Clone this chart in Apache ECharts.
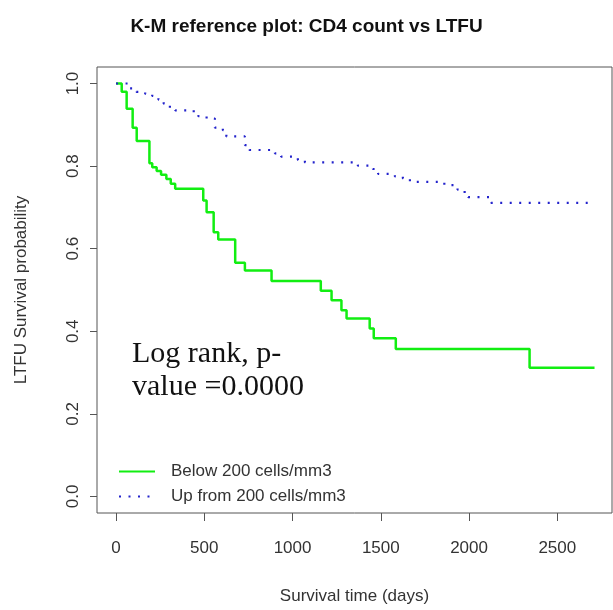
<!DOCTYPE html>
<html>
<head>
<meta charset="utf-8">
<script src="https://cdn.jsdelivr.net/npm/echarts@6/dist/echarts.min.js"></script>
<style>
  html, body { margin: 0; padding: 0; background: #fff; }
  #chart { width: 613px; height: 610px; }
</style>
</head>
<body>
<div id="chart"></div>
<script>
// Kaplan-Meier steps: survival value holds from each time until the next one
var belowTime = [0, 32, 60, 94, 117, 189, 205, 230, 255, 285, 310, 335, 494, 513, 553, 579, 675, 730, 881, 1160, 1221, 1277, 1306, 1437, 1460, 1585, 2343, 2711];
var belowSurv = [1.0, 0.980, 0.939, 0.893, 0.861, 0.807, 0.797, 0.788, 0.779, 0.769, 0.757, 0.745, 0.717, 0.688, 0.640, 0.622, 0.566, 0.547, 0.522, 0.498, 0.475, 0.451, 0.431, 0.407, 0.383, 0.357, 0.312, 0.312];

var upTime = [0, 70, 115, 165, 205, 240, 270, 305, 335, 440, 466, 513, 560, 605, 625, 730, 755, 900, 935, 1030, 1070, 1370, 1455, 1485, 1580, 1625, 1665, 1860, 1935, 1975, 1995, 2125, 2680];
var upSurv = [1.0, 0.988, 0.980, 0.975, 0.970, 0.961, 0.951, 0.941, 0.935, 0.930, 0.921, 0.915, 0.893, 0.887, 0.872, 0.851, 0.839, 0.831, 0.823, 0.815, 0.809, 0.801, 0.793, 0.781, 0.775, 0.770, 0.762, 0.754, 0.743, 0.733, 0.725, 0.711, 0.711];

var xTicks = [0, 500, 1000, 1500, 2000, 2500];
var yTicks = [0, 0.2, 0.4, 0.6, 0.8, 1.0];

function pairs (xs, ys) {
  return xs.map(function (x, i) { return [x, ys[i]]; });
}

var chart = echarts.init(document.getElementById('chart'));
var axisColor = '#555';
var textColor = '#333';

chart.setOption({
  animation: false,
  title: {
    text: 'K-M reference plot: CD4 count vs LTFU',
    left: 'center',
    top: 12,
    textStyle: { fontFamily: 'Liberation Sans', fontWeight: 'bold', fontSize: 19, color: '#111' }
  },
  grid: {
    left: 97, right: 1, top: 67, bottom: 95,
    show: true, borderColor: axisColor, borderWidth: 1
  },
  legend: {
    orient: 'vertical',
    left: 113,
    top: 458,
    itemWidth: 36,
    itemHeight: 14,
    itemGap: 8,
    itemStyle: { opacity: 0 },
    textStyle: { fontFamily: 'Liberation Sans', fontSize: 17, color: textColor, padding: [0, 0, 0, 11] },
    data: ['Below 200 cells/mm3', 'Up from 200 cells/mm3']
  },
  xAxis: {
    type: 'value',
    min: -108,
    max: 2810,
    name: 'Survival time (days)',
    nameLocation: 'middle',
    nameGap: 75,
    nameTextStyle: { fontFamily: 'Liberation Sans', fontSize: 17, color: textColor },
    axisLine: { show: false, onZero: false },
    splitLine: { show: false },
    axisTick: { show: true, length: 8, lineStyle: { color: axisColor }, customValues: xTicks },
    axisLabel: {
      fontFamily: 'Liberation Sans', fontSize: 17, color: textColor, margin: 27,
      customValues: xTicks,
      formatter: function (v) { return String(v); }
    }
  },
  yAxis: {
    type: 'value',
    min: -0.04,
    max: 1.04,
    name: 'LTFU Survival probability',
    nameLocation: 'middle',
    nameGap: 67,
    nameTextStyle: { fontFamily: 'Liberation Sans', fontSize: 17, color: textColor },
    axisLine: { show: false, onZero: false },
    splitLine: { show: false },
    axisTick: { show: true, length: 7, lineStyle: { color: axisColor }, customValues: yTicks },
    axisLabel: {
      fontFamily: 'Liberation Sans', fontSize: 17, color: textColor, margin: 15, rotate: 90,
      customValues: yTicks,
      formatter: function (v) { return v.toFixed(1); }
    }
  },
  graphic: [{
    type: 'text',
    left: 132,
    top: 338,
    style: {
      text: 'Log rank, p-\nvalue =0.0000',
      fontFamily: 'Liberation Serif',
      fontSize: 30,
      lineHeight: 33,
      fill: '#111'
    }
  }],
  series: [
    {
      name: 'Below 200 cells/mm3',
      type: 'line',
      step: 'end',
      symbol: 'none',
      data: pairs(belowTime, belowSurv),
      lineStyle: { color: '#12ee12', width: 2.5 },
      itemStyle: { color: '#12ee12' }
    },
    {
      name: 'Up from 200 cells/mm3',
      type: 'line',
      step: 'end',
      symbol: 'none',
      data: pairs(upTime, upSurv),
      lineStyle: { color: '#2323cc', width: 2.2, type: [2, 7.5] },
      itemStyle: { color: '#2323cc' }
    }
  ]
});
</script>
</body>
</html>
